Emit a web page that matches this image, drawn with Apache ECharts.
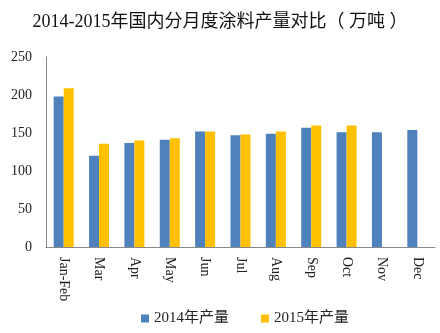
<!DOCTYPE html>
<html><head><meta charset="utf-8">
<script src="https://cdn.jsdelivr.net/npm/echarts@6/dist/echarts.min.js"></script>
<style>html,body{margin:0;padding:0;background:#fff}#c{width:440px;height:333px}</style>
</head><body><div id="c"></div>
<script>
const categories = ['Jan-Feb','Mar','Apr','May','Jun','Jul','Aug','Sep','Oct','Nov','Dec'];
const values2014 = [198,120,137,141,152,147,149,157,151,151,154];
const values2015 = [209,136,140,143,152,148,152,160,160,null,null];
const seriesNames = ['2014年产量','2015年产量'];
const yTicks = [0,50,100,150,200,250];
const FONT = '"Liberation Serif", "Times New Roman", "Noto Sans CJK SC", serif';
const chart = echarts.init(document.getElementById('c'));
chart.setOption({
  animation:false,
  title:{text:'2014-2015年国内分月度涂料产量对比（ 万吨 ）',left:'center',top:8,
    textStyle:{fontFamily:FONT,fontSize:18,fontWeight:'normal',color:'#111'}},
  grid:{left:46,right:5,top:57,bottom:86},
  legend:{bottom:2,left:136,itemWidth:8,itemHeight:8,itemGap:32,icon:'rect',
    textStyle:{fontFamily:FONT,fontSize:15,color:'#222'},data:seriesNames},
  xAxis:{type:'category',data:categories,
    axisLine:{lineStyle:{color:'#888'}},axisTick:{show:false},
    axisLabel:{rotate:-90,interval:0,margin:10,fontFamily:FONT,fontSize:14,color:'#222'}},
  yAxis:{type:'value',min:yTicks[0],max:yTicks[yTicks.length-1],interval:50,
    splitLine:{show:false},axisLine:{show:true,lineStyle:{color:'#888'}},axisTick:{show:false},
    axisLabel:{fontFamily:FONT,fontSize:14,color:'#222',margin:14}},
  series:[
    {name:seriesNames[0],type:'bar',data:values2014,barWidth:10,barGap:'0%',itemStyle:{color:'#4F81BD'}},
    {name:seriesNames[1],type:'bar',data:values2015,barWidth:10,barGap:'0%',itemStyle:{color:'#FFC000'}}
  ]
});
</script></body></html>
